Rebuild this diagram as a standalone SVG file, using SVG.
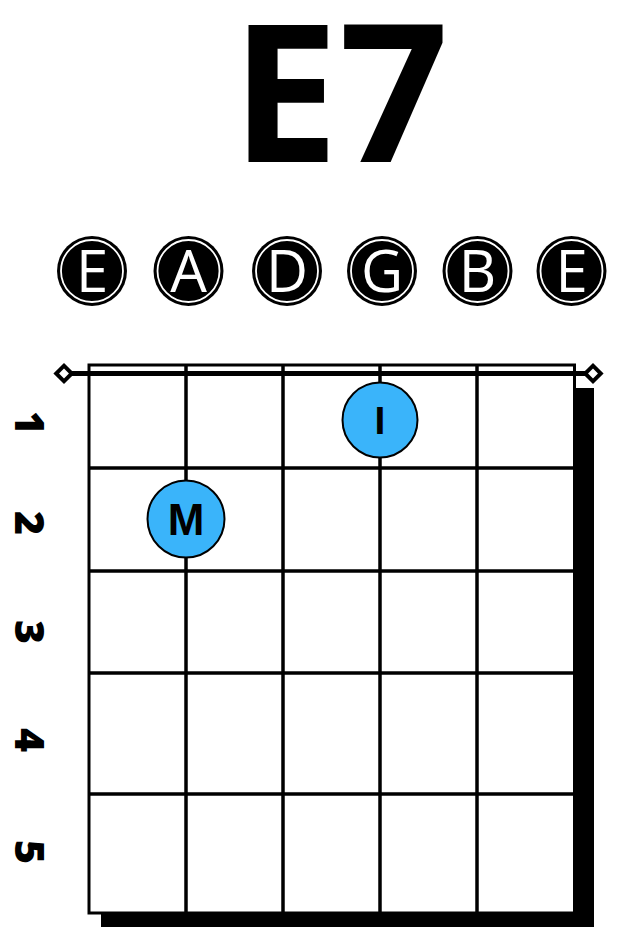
<svg xmlns="http://www.w3.org/2000/svg" width="621" height="948" viewBox="0 0 621 948">
<style>
.title{font-family:"Open Sans","Liberation Sans",sans-serif;font-weight:700;font-size:192px;fill:#000}
.str circle.o{fill:#000}
.str circle.i{fill:none;stroke:#fff;stroke-width:1.8}
.str text{font-family:"Open Sans","Liberation Sans",sans-serif;font-size:58px;fill:#fff;text-anchor:middle}
.fret{font-family:"Open Sans","Liberation Sans",sans-serif;font-weight:800;font-size:41px;fill:#000;text-anchor:middle}
.grid line{stroke:#000;stroke-width:3.5}
.dia{fill:#fff;stroke:#000;stroke-width:4}
.finger circle{fill:#3ab4fa;stroke:#000;stroke-width:2}
.finger text{font-family:"Liberation Sans",Arial,sans-serif;font-weight:bold;fill:#000;text-anchor:middle}
</style>
<rect width="621" height="948" fill="#fff"/>
<g id="title"><text class="title" x="340" y="162" text-anchor="middle">E7</text></g>
<g id="strings" class="str">
<g id="s1"><circle class="o" cx="92" cy="271" r="35"/><circle class="i" cx="92" cy="271" r="31"/><text x="92" y="292">E</text></g>
<g id="s2"><circle class="o" cx="188.5" cy="271" r="35"/><circle class="i" cx="188.5" cy="271" r="31"/><text x="188.5" y="292">A</text></g>
<g id="s3"><circle class="o" cx="287" cy="271" r="35"/><circle class="i" cx="287" cy="271" r="31"/><text x="287" y="292">D</text></g>
<g id="s4"><circle class="o" cx="382" cy="271" r="35"/><circle class="i" cx="382" cy="271" r="31"/><text x="382" y="292">G</text></g>
<g id="s5"><circle class="o" cx="477.5" cy="271" r="35"/><circle class="i" cx="477.5" cy="271" r="31"/><text x="477.5" y="292">B</text></g>
<g id="s6"><circle class="o" cx="571.5" cy="271" r="35"/><circle class="i" cx="571.5" cy="271" r="31"/><text x="571.5" y="292">E</text></g>
</g>
<g id="frets">
<text class="fret" transform="translate(15 423) rotate(90)">1</text>
<text class="fret" transform="translate(15 523) rotate(90)">2</text>
<text class="fret" transform="translate(15 632) rotate(90)">3</text>
<text class="fret" transform="translate(15 740) rotate(90)">4</text>
<text class="fret" transform="translate(15 852) rotate(90)">5</text>
</g>
<g id="fretboard">
<rect x="101" y="388" width="493" height="539" fill="#000"/>
<rect x="89" y="365" width="485.5" height="548" fill="#fff" stroke="#000" stroke-width="3"/>
<g class="grid">
<line x1="186" y1="365" x2="186" y2="913"/>
<line x1="283" y1="365" x2="283" y2="913"/>
<line x1="380" y1="365" x2="380" y2="913"/>
<line x1="477" y1="365" x2="477" y2="913"/>
<line x1="89" y1="468" x2="574.5" y2="468"/>
<line x1="89" y1="571" x2="574.5" y2="571"/>
<line x1="89" y1="673" x2="574.5" y2="673"/>
<line x1="89" y1="794" x2="574.5" y2="794"/>
</g>
<line x1="64" y1="373.5" x2="593" y2="373.5" stroke="#000" stroke-width="5"/>
<rect class="dia" x="58.5" y="368" width="11" height="11" transform="rotate(45 64 373.5)"/>
<rect class="dia" x="587.5" y="368" width="11" height="11" transform="rotate(45 593 373.5)"/>
</g>
<g id="finger-I" class="finger"><circle cx="380" cy="420" r="37.5"/><text x="380" y="434" font-size="39">I</text></g>
<g id="finger-M" class="finger"><circle cx="186" cy="519" r="38.5"/><text x="186" y="535" font-size="44">M</text></g>
</svg>
